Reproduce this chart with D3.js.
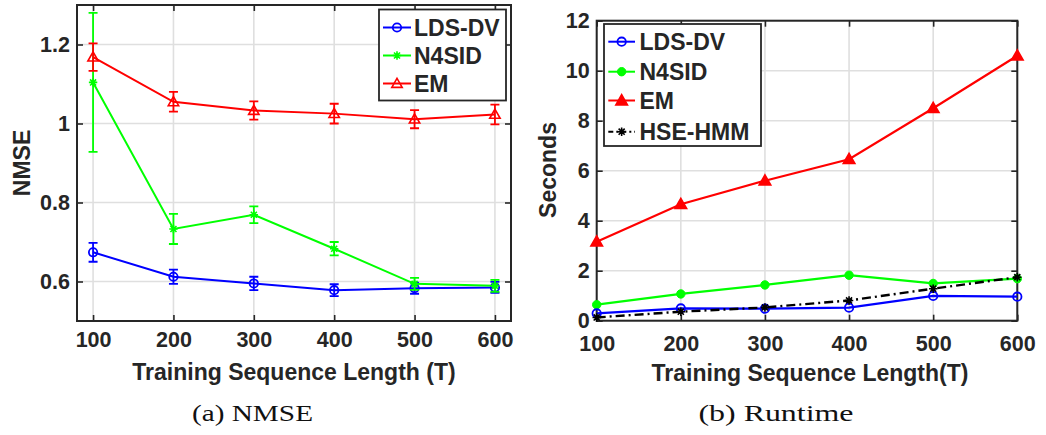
<!DOCTYPE html>
<html>
<head>
<meta charset="utf-8">
<script src="https://cdn.jsdelivr.net/npm/d3@7/dist/d3.min.js"></script>
<style>
  html, body { margin: 0; padding: 0; background: #ffffff; }
  svg { display: block; }
  text { font-family: "Liberation Sans", Arial, sans-serif; font-weight: bold; fill: #262626; }
  .caption { font-family: "Liberation Serif", "Times New Roman", serif; font-weight: normal; fill: #111; }
</style>
</head>
<body>
<svg id="fig" width="1046" height="435"></svg>
<script>
// Training sequence lengths (shared x values)
const lengths = [100, 200, 300, 400, 500, 600];

// Panel (a): NMSE with standard-error bars
const nmseLdsDv    = [0.674, 0.612, 0.595, 0.578, 0.583, 0.585];
const nmseLdsDvErr = [0.024, 0.018, 0.017, 0.015, 0.014, 0.014];
const nmseN4sid    = [1.104, 0.733, 0.769, 0.683, 0.594, 0.589];
const nmseN4sidErr = [0.176, 0.038, 0.021, 0.017, 0.015, 0.015];
const nmseEm       = [1.168, 1.055, 1.033, 1.025, 1.011, 1.023];
const nmseEmErr    = [0.035, 0.025, 0.023, 0.025, 0.023, 0.025];
const nmseTicks    = [0.6, 0.8, 1.0, 1.2];

// Panel (b): runtime in seconds
const timeLdsDv  = [0.29, 0.49, 0.48, 0.52, 0.99, 0.96];
const timeN4sid  = [0.64, 1.07, 1.43, 1.82, 1.49, 1.68];
const timeEm     = [3.16, 4.66, 5.60, 6.46, 8.50, 10.6];
const timeHseHmm = [0.13, 0.36, 0.53, 0.81, 1.28, 1.74];
const timeTicks  = [0, 2, 4, 6, 8, 10, 12];

const BLUE = "#0000ff", GREEN = "#00ff00", RED = "#ff0000", BLACK = "#000000";
const AXIS = "#262626", GRID = "#dfdfdf";

const svg = d3.select("#fig");
svg.append("rect").attr("width", 1046).attr("height", 435).attr("fill", "#fff");

// ---- marker helpers ----
function drawMarker(g, type, x, y, color) {
  if (type === "circle") {
    g.append("circle").attr("cx", x).attr("cy", y).attr("r", 4.2)
      .attr("fill", "none").attr("stroke", color).attr("stroke-width", 1.8);
  } else if (type === "dot") {
    g.append("circle").attr("cx", x).attr("cy", y).attr("r", 4.2)
      .attr("fill", color).attr("stroke", color).attr("stroke-width", 1);
  } else if (type === "tri" || type === "triFill") {
    const s = type === "tri" ? 5.2 : 5.8;
    const p = `M${x},${y - s} L${x + s},${y + s * 0.75} L${x - s},${y + s * 0.75} Z`;
    g.append("path").attr("d", p)
      .attr("fill", type === "tri" ? "none" : color)
      .attr("stroke", color).attr("stroke-width", 1.6).attr("stroke-linejoin", "miter");
  } else if (type === "star") {
    const s = 4.2, d = s * 0.72;
    const p = `M${x - s},${y} L${x + s},${y} M${x},${y - s} L${x},${y + s}` +
              ` M${x - d},${y - d} L${x + d},${y + d} M${x - d},${y + d} L${x + d},${y - d}`;
    g.append("path").attr("d", p).attr("stroke", color).attr("stroke-width", 1.6).attr("fill", "none");
  }
}

// ---- axes frame with grid and inward ticks on every side ----
function frame(g, x, y, xTicks, yTicks, yFmt, xPad) {
  const [x0, x1] = x.range(), [y0, y1] = y.range();   // y0 bottom, y1 top
  const grid = g.append("g");
  xTicks.forEach(t => grid.append("line").attr("x1", x(t)).attr("x2", x(t))
      .attr("y1", y1).attr("y2", y0).attr("stroke", GRID).attr("stroke-width", 1.6));
  yTicks.forEach(t => grid.append("line").attr("x1", x0).attr("x2", x1)
      .attr("y1", y(t)).attr("y2", y(t)).attr("stroke", GRID).attr("stroke-width", 1.6));

  const xb = g.append("g").attr("transform", `translate(0,${y0})`)
    .call(d3.axisBottom(x).tickValues(xTicks).tickSize(-6).tickPadding(xPad).tickFormat(d3.format("d")));
  const xt = g.append("g").attr("transform", `translate(0,${y1})`)
    .call(d3.axisTop(x).tickValues(xTicks).tickSize(-6).tickFormat(""));
  const yl = g.append("g").attr("transform", `translate(${x0},0)`)
    .call(d3.axisLeft(y).tickValues(yTicks).tickSize(-6).tickPadding(7).tickFormat(yFmt));
  const yr = g.append("g").attr("transform", `translate(${x1},0)`)
    .call(d3.axisRight(y).tickValues(yTicks).tickSize(-6).tickFormat(""));
  [xb, xt, yl, yr].forEach(a => {
    a.select(".domain").remove();
    a.selectAll("line").attr("stroke", AXIS).attr("stroke-width", 1.6);
    a.selectAll("text").attr("font-size", 21.5).attr("fill", AXIS)
      .attr("font-family", "'Liberation Sans', Arial, sans-serif").attr("font-weight", "bold");
  });
  return g;
}

function box(g, x, y) {
  const [x0, x1] = x.range(), [y0, y1] = y.range();
  g.append("rect").attr("x", x0).attr("y", y1).attr("width", x1 - x0).attr("height", y0 - y1)
    .attr("fill", "none").attr("stroke", AXIS).attr("stroke-width", 2);
}

function series(g, x, y, vals, color, marker, opts = {}) {
  const line = d3.line().x((d, i) => x(lengths[i])).y(d => y(d));
  if (opts.err) {
    vals.forEach((v, i) => {
      const cx = x(lengths[i]), lo = y(v - opts.err[i]), hi = y(v + opts.err[i]);
      g.append("path").attr("d", `M${cx},${lo} L${cx},${hi} M${cx - 4.5},${lo} L${cx + 4.5},${lo} M${cx - 4.5},${hi} L${cx + 4.5},${hi}`)
        .attr("stroke", color).attr("stroke-width", 1.8).attr("fill", "none");
    });
  }
  g.append("path").datum(vals).attr("d", line).attr("fill", "none")
    .attr("stroke", color).attr("stroke-width", opts.width || 2)
    .attr("stroke-dasharray", opts.dash || null);
  vals.forEach((v, i) => drawMarker(g, marker, x(lengths[i]), y(v), color));
}

function legend(g, x0, y0, w, h, rows, x1line, x2line, textX) {
  g.append("rect").attr("x", x0).attr("y", y0).attr("width", w).attr("height", h)
    .attr("fill", "#fff").attr("stroke", AXIS).attr("stroke-width", 1.8);
  rows.forEach(r => {
    g.append("line").attr("x1", x1line).attr("x2", x2line).attr("y1", r.y).attr("y2", r.y)
      .attr("stroke", r.color).attr("stroke-width", r.width || 2).attr("stroke-dasharray", r.dash || null);
    drawMarker(g, r.marker, (x1line + x2line) / 2, r.y, r.color);
    g.append("text").attr("x", textX).attr("y", r.y).attr("dy", "0.36em")
      .attr("font-size", 23).attr("fill", "#000").text(r.label);
  });
}

// ================= Panel (a) =================
{
  const g = svg.append("g");
  const x = d3.scaleLinear().domain([80, 620]).range([77, 511]);
  const y = d3.scaleLinear().domain([0.5, 1.3]).range([321, 5]);
  frame(g, x, y, lengths, nmseTicks, d => (d === 1 ? "1" : d3.format(".1f")(d)), 10.5);
  box(g, x, y);
  series(g, x, y, nmseLdsDv, BLUE, "circle", { err: nmseLdsDvErr });
  series(g, x, y, nmseN4sid, GREEN, "star", { err: nmseN4sidErr });
  series(g, x, y, nmseEm, RED, "tri", { err: nmseEmErr });

  legend(g, 379, 9.5, 127, 91, [
    { y: 27.5, color: BLUE, marker: "circle", label: "LDS-DV" },
    { y: 55.5, color: GREEN, marker: "star", label: "N4SID" },
    { y: 83.5, color: RED, marker: "tri", label: "EM" }
  ], 383, 411, 414);

  g.append("text").attr("x", 294).attr("y", 380).attr("text-anchor", "middle")
    .attr("font-size", 23).text("Training Sequence Length (T)");
  g.append("text").attr("transform", "translate(30,163) rotate(-90)").attr("text-anchor", "middle")
    .attr("font-size", 23).text("NMSE");
  g.append("text").attr("class", "caption").attr("x", 192).attr("y", 421)
    .attr("font-size", 24).attr("textLength", 121).attr("lengthAdjust", "spacingAndGlyphs").text("(a) NMSE");
}

// ================= Panel (b) =================
{
  const g = svg.append("g");
  const x = d3.scaleLinear().domain([100, 600]).range([596.7, 1017.3]);
  const y = d3.scaleLinear().domain([0, 12]).range([320.7, 20.7]);
  frame(g, x, y, lengths, timeTicks, d3.format("d"), 15);
  box(g, x, y);
  series(g, x, y, timeEm, RED, "triFill", { width: 2.2 });
  series(g, x, y, timeN4sid, GREEN, "dot", { width: 2.2 });
  series(g, x, y, timeLdsDv, BLUE, "circle", { width: 2.2 });
  series(g, x, y, timeHseHmm, BLACK, "star", { width: 2.4, dash: "9 4 2 4" });

  legend(g, 604, 24, 157, 122, [
    { y: 41.7, color: BLUE, marker: "circle", label: "LDS-DV" },
    { y: 71.7, color: GREEN, marker: "dot", label: "N4SID" },
    { y: 100.5, color: RED, marker: "triFill", label: "EM" },
    { y: 131.7, color: BLACK, marker: "star", label: "HSE-HMM", dash: "5 3 2 3", width: 2 }
  ], 608.3, 635, 639.5);

  g.append("text").attr("x", 810).attr("y", 381).attr("text-anchor", "middle")
    .attr("font-size", 23).text("Training Sequence Length(T)");
  g.append("text").attr("transform", "translate(556,170) rotate(-90)").attr("text-anchor", "middle")
    .attr("font-size", 23).text("Seconds");
  g.append("text").attr("class", "caption").attr("x", 698.5).attr("y", 421)
    .attr("font-size", 24).attr("textLength", 155).attr("lengthAdjust", "spacingAndGlyphs").text("(b) Runtime");
}
</script>
</body>
</html>
